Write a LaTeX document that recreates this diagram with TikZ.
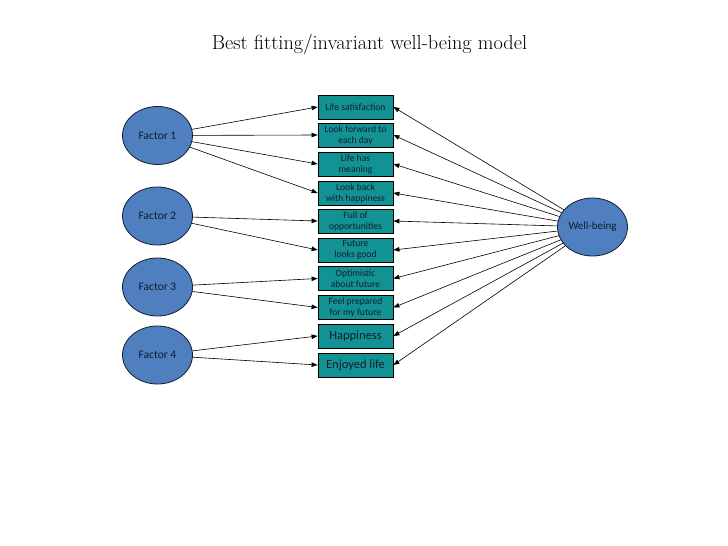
\documentclass[tikz,border=0pt]{standalone}
\usepackage{fontspec}
\newfontfamily\lblfont{Carlito}
\usetikzlibrary{arrows.meta,shapes.geometric}
\definecolor{boxfill}{RGB}{18,146,146}
\definecolor{ellfill}{RGB}{79,127,190}
\definecolor{ellline}{RGB}{20,30,50}
\definecolor{txtdark}{RGB}{15,30,50}
\tikzset{
  itembox/.style={draw=black, line width=0.8pt, fill=boxfill, minimum width=75pt, minimum height=24pt,
    inner sep=0pt, align=center, text=txtdark, font=\lblfont\fontsize{9.6}{11}\selectfont},
  bigitem/.style={itembox, font=\lblfont\fontsize{12.5}{14}\selectfont},
  factor/.style={ellipse, draw=ellline, line width=0.8pt, fill=ellfill, minimum width=70pt, minimum height=58pt,
    inner sep=0pt, text=txtdark, font=\lblfont\fontsize{11.5}{13}\selectfont},
  link/.style={draw=black, line width=0.6pt, -{Triangle[length=6pt,width=4.5pt]}}
}
\begin{document}
\begin{tikzpicture}[x=1pt,y=-1pt]
\useasboundingbox (0,0) rectangle (728,546);
\node[font=\fontsize{20.3}{23}\selectfont] (title) at (369.5,44) {Best fitting/invariant well-being model};

\node[itembox] (b1) at (355.5,107) {Life satisfaction};
\node[itembox] (b2) at (355.5,135) {Look forward to\\each day};
\node[itembox] (b3) at (355.5,164) {Life has\\meaning};
\node[itembox] (b4) at (355.5,193) {Look back\\with happiness};
\node[itembox] (b5) at (355.5,221) {Full of\\opportunities};
\node[itembox] (b6) at (355.5,250) {Future\\looks good};
\node[itembox] (b7) at (355.5,278.5) {Optimistic\\about future};
\node[itembox] (b8) at (355.5,307.5) {Feel prepared\\for my future};
\node[bigitem] (b9) at (355.5,336) {Happiness};
\node[bigitem] (b10) at (355.5,365) {Enjoyed life};

\node[factor] (f1) at (157.5,135.5) {Factor 1};
\node[factor] (f2) at (157.5,216) {Factor 2};
\node[factor] (f3) at (157.5,287) {Factor 3};
\node[factor] (f4) at (157.5,355) {Factor 4};
\node[factor, font=\lblfont\fontsize{11}{13}\selectfont] (wb) at (592.5,227) {Well-being};

\draw[link] (f1) -- (b1.west);
\draw[link] (f1) -- (b2.west);
\draw[link] (f1) -- (b3.west);
\draw[link] (f1) -- (b4.west);
\draw[link] (f2) -- (b5.west);
\draw[link] (f2) -- (b6.west);
\draw[link] (f3) -- (b7.west);
\draw[link] (f3) -- (b8.west);
\draw[link] (f4) -- (b9.west);
\draw[link] (f4) -- (b10.west);

\foreach \i in {1,...,10} {
  \draw[link] (wb) -- (b\i.east);
}
\end{tikzpicture}
\end{document}
